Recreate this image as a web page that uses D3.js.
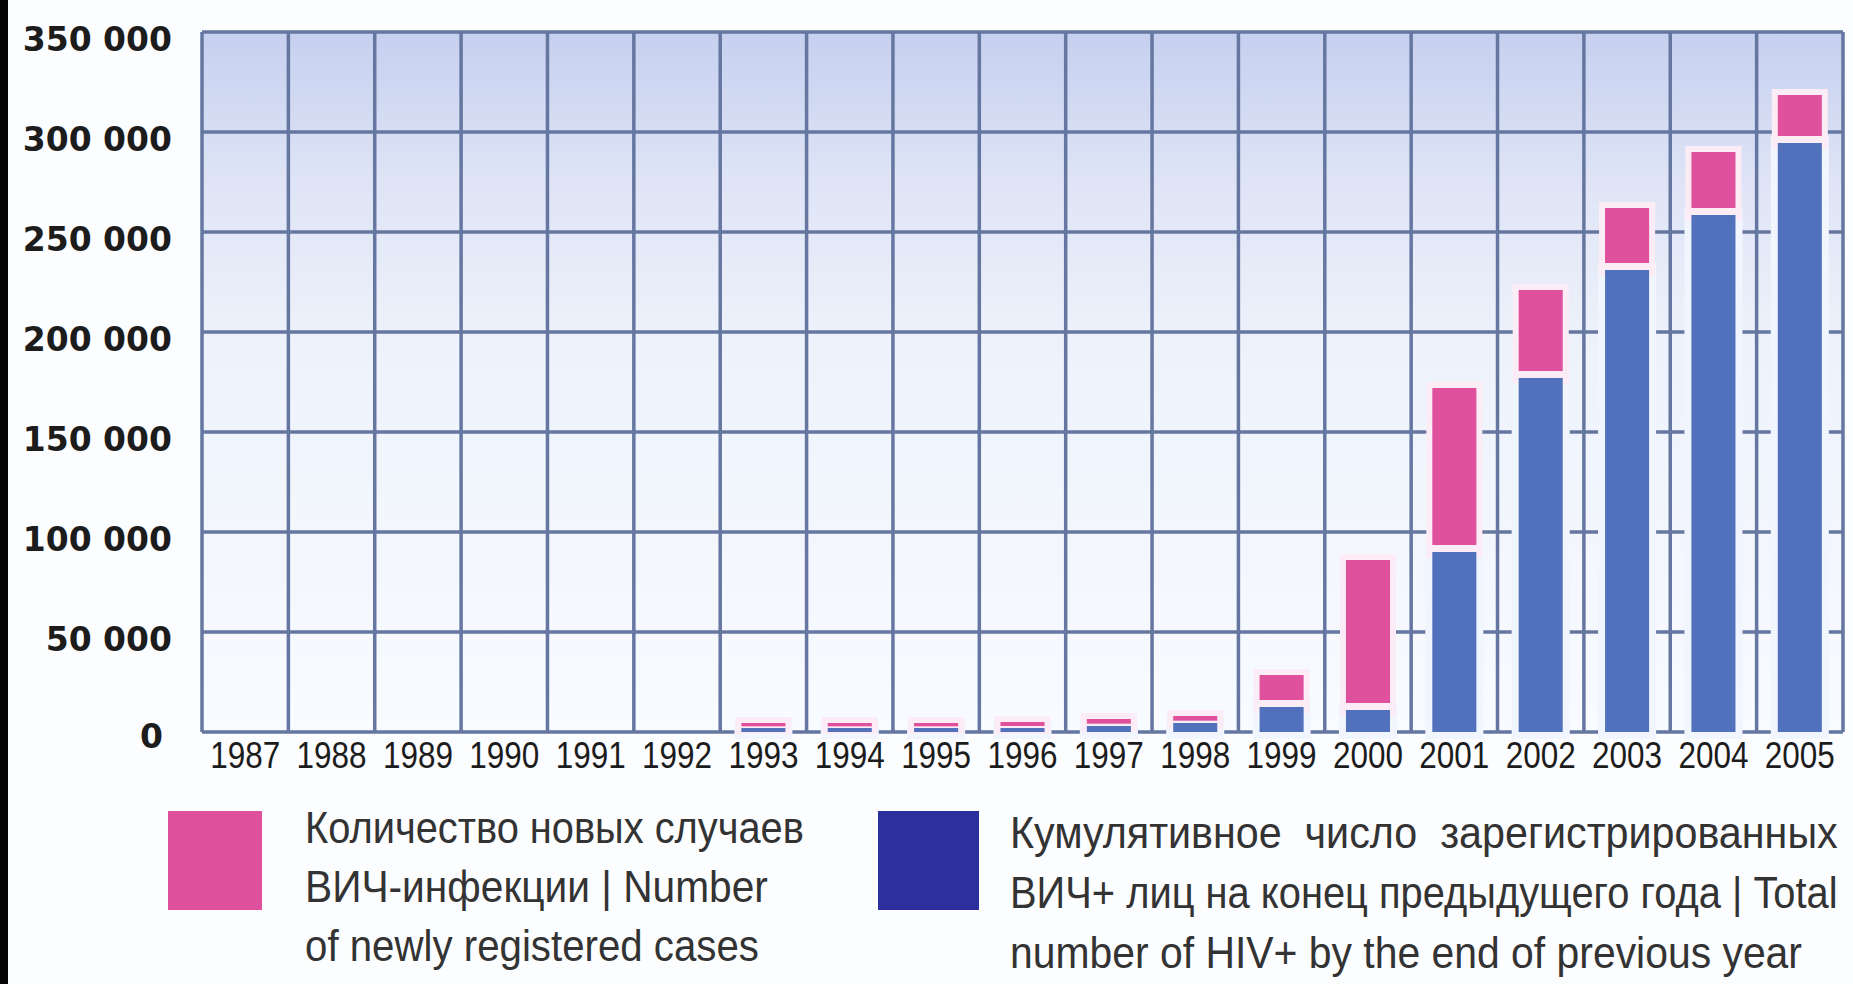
<!DOCTYPE html>
<html>
<head>
<meta charset="utf-8">
<script src="https://cdn.jsdelivr.net/npm/d3@7"></script>
<style>
  body { margin: 0; background: #fcfdff; }
  svg { display: block; }
</style>
</head>
<body>
<svg id="chart" width="1853" height="984"></svg>
<script>
const years = ['1987', '1988', '1989', '1990', '1991', '1992', '1993', '1994', '1995', '1996',
  '1997', '1998', '1999', '2000', '2001', '2002', '2003', '2004', '2005']
// cumulative HIV+ at the end of the previous year (blue)
const prevTotal = [0, 0, 0, 0, 0, 0, 2000, 2000, 2000, 2000, 3000, 4500, 12500, 11000, 90000, 177000, 231000, 258500, 294500]
// newly registered cases (pink)
const newCases = [0, 0, 0, 0, 0, 0, 2500, 2500, 2500, 3000, 3500, 3500, 16000, 75000, 82000, 44000, 31000, 31500, 24000]
const yTicks = [0, 50000, 100000, 150000, 200000, 250000, 300000, 350000]
const legendNew = ['Количество новых случаев', 'ВИЧ-инфекции | Number', 'of newly registered cases']
const legendTotal = ['Кумулятивное  число  зарегистрированных', 'ВИЧ+ лиц на конец предыдущего года | Total', 'number of HIV+ by the end of previous year']

const pink = '#df519c'
const blue = '#5271bd'
const navy = '#2d2f9f'
const gridColor = '#6576a0'

const margin = { top: 32, right: 10, bottom: 252, left: 202 }
const width = 1853
const height = 984

const svg = d3.select('#chart')

const dataset = years.map((y, i) => ({ name: y, prev: prevTotal[i], added: newCases[i] }))

const xScale = d3.scaleBand().domain(years).range([margin.left, width - margin.right]).padding(0)
const yScale = d3.scaleLinear().domain([0, 350000]).range([height - margin.bottom, margin.top])

const fmt = d3.formatLocale({ decimal: ',', thousands: '\u00a0', grouping: [3], currency: ['', ''] }).format(',d')

// background
const defs = svg.append('defs')
const grad = defs.append('linearGradient').attr('id', 'plotBg').attr('x1', 0).attr('y1', 0).attr('x2', 0).attr('y2', 1)
grad.append('stop').attr('offset', '0%').attr('stop-color', '#c6d0ef')
grad.append('stop').attr('offset', '22%').attr('stop-color', '#dfe5f6')
grad.append('stop').attr('offset', '45%').attr('stop-color', '#eef2fb')
grad.append('stop').attr('offset', '100%').attr('stop-color', '#f8fbff')

svg.append('rect').attr('x', 0).attr('y', 0).attr('width', 8).attr('height', height).attr('fill', '#050505')

svg.append('rect')
  .attr('x', margin.left)
  .attr('y', margin.top)
  .attr('width', xScale.range()[1] - margin.left)
  .attr('height', yScale(0) - margin.top)
  .attr('fill', 'url(#plotBg)')

// grid
const grid = svg.append('g').attr('class', 'grid').attr('stroke', gridColor).attr('stroke-width', 3.5)
grid.selectAll('.hline')
  .data(yTicks)
  .enter()
  .append('line')
  .attr('x1', margin.left)
  .attr('x2', xScale.range()[1])
  .attr('y1', (d) => yScale(d))
  .attr('y2', (d) => yScale(d))

const edges = years.map((y) => xScale(y)).concat([xScale.range()[1]])
grid.selectAll('.vline')
  .data(edges)
  .enter()
  .append('line')
  .attr('x1', (d) => d)
  .attr('x2', (d) => d)
  .attr('y1', margin.top)
  .attr('y2', yScale(0))

// bars
const barW = xScale.bandwidth() * 0.51
const barX = (d) => xScale(d.name) + (xScale.bandwidth() - barW) / 2
const bars = svg.append('g').attr('class', 'chart-bars')
const shown = dataset.filter((d) => d.prev + d.added > 0)

bars.selectAll('.halo-blue')
  .data(shown)
  .enter()
  .append('rect')
  .attr('x', barX)
  .attr('width', barW)
  .attr('y', (d) => yScale(d.prev))
  .attr('height', (d) => yScale(0) - yScale(d.prev))
  .attr('fill', '#f1f5fd')
  .attr('stroke', '#f1f5fd')
  .attr('stroke-width', 14)

bars.selectAll('.halo-pink')
  .data(shown)
  .enter()
  .append('rect')
  .attr('x', barX)
  .attr('width', barW)
  .attr('y', (d) => yScale(d.prev + d.added))
  .attr('height', (d) => yScale(d.prev) - yScale(d.prev + d.added))
  .attr('fill', '#fcecf5')
  .attr('stroke', '#fcecf5')
  .attr('stroke-width', 12)

bars.selectAll('.bar-prev')
  .data(shown)
  .enter()
  .append('rect')
  .attr('class', 'bar-prev')
  .attr('x', barX)
  .attr('width', barW)
  .attr('y', (d) => yScale(d.prev))
  .attr('height', (d) => yScale(0) - yScale(d.prev))
  .attr('fill', blue)

bars.selectAll('.bar-new')
  .data(shown)
  .enter()
  .append('rect')
  .attr('class', 'bar-new')
  .attr('x', barX)
  .attr('width', barW)
  .attr('y', (d) => yScale(d.prev + d.added))
  .attr('height', (d) => {
    const h = yScale(d.prev) - yScale(d.prev + d.added)
    return h - Math.min(7, h / 3)
  })
  .attr('fill', pink)

// y labels
svg.append('g')
  .selectAll('text')
  .data(yTicks)
  .enter()
  .append('text')
  .attr('x', (d) => (d === 0 ? 163 : 172))
  .attr('y', (d) => yScale(d) + (d === 0 ? 16 : 19))
  .attr('text-anchor', 'end')
  .attr('font-family', 'DejaVu Sans, sans-serif')
  .attr('font-weight', 'bold')
  .attr('font-size', 33)
  .attr('fill', '#1c1c1c')
  .text((d) => fmt(d))

// x labels
svg.append('g')
  .selectAll('text')
  .data(years)
  .enter()
  .append('text')
  .attr('x', (d) => xScale(d) + xScale.bandwidth() / 2)
  .attr('y', yScale(0) + 36)
  .attr('text-anchor', 'middle')
  .attr('font-family', 'Liberation Sans Narrow, Liberation Sans, sans-serif')
  .attr('font-size', 36)
  .attr('textLength', 70)
  .attr('lengthAdjust', 'spacingAndGlyphs')
  .attr('fill', '#1c1c1c')
  .text((d) => d)

// legend
const legend = svg.append('g').attr('class', 'legend')
legend.append('rect').attr('x', 168).attr('y', 811).attr('width', 94).attr('height', 99).attr('fill', pink)
legend.append('rect').attr('x', 878).attr('y', 811).attr('width', 101).attr('height', 99).attr('fill', navy)

const legendFont = 'Liberation Sans Narrow, Liberation Sans, sans-serif'

// squeeze each line horizontally to the width it has in the picture
function legendLines(lines, x, y0, step, widths) {
  lines.forEach((line, i) => {
    const g = legend.append('g')
    const t = g.append('text')
      .attr('x', 0)
      .attr('y', 0)
      .attr('font-family', legendFont)
      .attr('font-size', 44)
      .attr('fill', '#333')
      .style('white-space', 'pre')
      .text(line)
    const natural = t.node().getComputedTextLength()
    g.attr('transform', `translate(${x}, ${y0 + i * step}) scale(${widths[i] / natural}, 1)`)
  })
}

legendLines(legendNew, 305, 843, 59, [499, 463, 454])
legendLines(legendTotal, 1010, 848, 60, [828, 828, 792])
</script>
</body>
</html>
